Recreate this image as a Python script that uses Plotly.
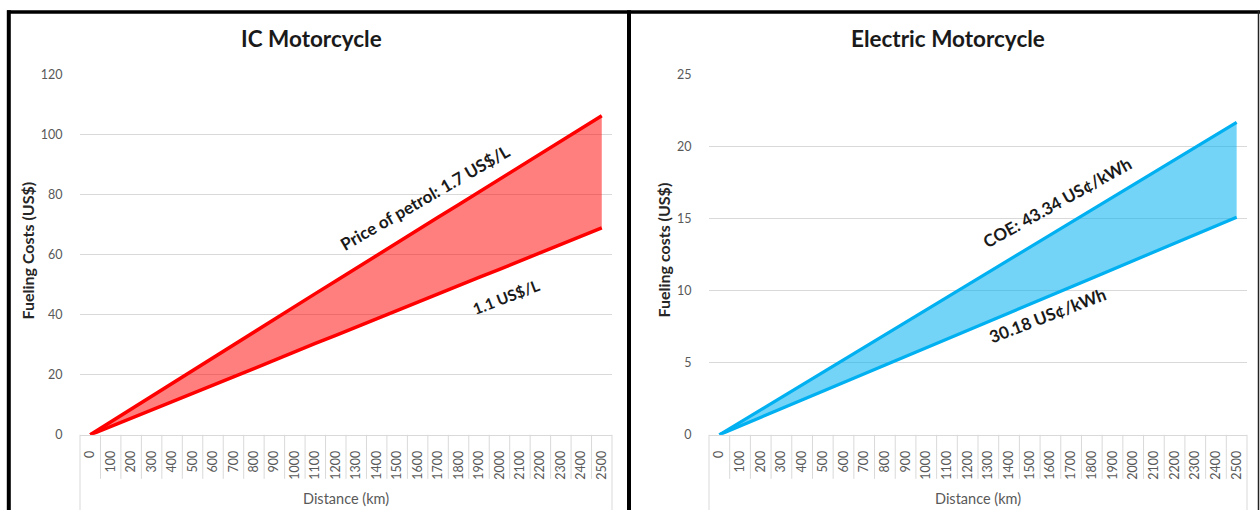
import plotly.graph_objects as go

# ---------------- data ----------------
distance_km = ["0", "100", "200", "300", "400", "500", "600", "700", "800", "900",
               "1000", "1100", "1200", "1300", "1400", "1500", "1600", "1700", "1800",
               "1900", "2000", "2100", "2200", "2300", "2400", "2500"]

ic_high = [0, 4.3, 8.6, 12.8, 17.1, 21.4, 25.7, 30.0, 34.2, 38.5, 42.8, 47.0, 51.2,
           55.5, 59.7, 63.9, 68.1, 72.4, 76.6, 80.8, 85.0, 89.3, 93.5, 97.7, 101.9, 106.2]
ic_low = [0, 2.8, 5.5, 8.3, 11.0, 13.9, 16.6, 19.3, 22.0, 24.9, 27.6, 30.4, 33.1,
          35.9, 38.6, 41.4, 44.1, 46.9, 49.6, 52.4, 55.1, 57.9, 60.6, 63.4, 66.1, 68.9]

ev_high = [0, 0.87, 1.73, 2.60, 3.47, 4.34, 5.20, 6.07, 6.94, 7.80, 8.67, 9.54, 10.40,
           11.27, 12.14, 13.00, 13.87, 14.74, 15.60, 16.47, 17.34, 18.20, 19.07, 19.94,
           20.80, 21.67]
ev_low = [0, 0.60, 1.21, 1.81, 2.41, 3.02, 3.62, 4.23, 4.83, 5.43, 6.04, 6.64, 7.24,
          7.85, 8.45, 9.05, 9.66, 10.26, 10.86, 11.47, 12.07, 12.68, 13.28, 13.88,
          14.49, 15.09]

ic_ticks = [0, 20, 40, 60, 80, 100, 120]
ev_ticks = [0, 5, 10, 15, 20, 25]

W, H = 1260, 519
FONT = "Lato"
# vertical correction for how the page is photographed
VA, VB = 0.97, 7.7


def px(x):
    return x / W


def py(y):
    v = 1 - ((y - VB) / VA) / H
    return min(1.0, max(0.0, v))


RED = "#FF0000"
RED_FILL = "rgba(255,0,0,0.5)"
BLUE = "#00B0F0"
BLUE_FILL = "rgba(0,176,240,0.55)"

fig = go.Figure()

# IC motorcycle
fig.add_trace(go.Scatter(x=distance_km, y=ic_low, mode="lines", xaxis="x", yaxis="y",
                         line=dict(color=RED, width=3.5), showlegend=False))
fig.add_trace(go.Scatter(x=distance_km, y=ic_high, mode="lines", xaxis="x", yaxis="y",
                         line=dict(color=RED, width=3.5), fill="tonexty",
                         fillcolor=RED_FILL, showlegend=False))
# Electric motorcycle
fig.add_trace(go.Scatter(x=distance_km, y=ev_low, mode="lines", xaxis="x2", yaxis="y2",
                         line=dict(color=BLUE, width=3.2), showlegend=False))
fig.add_trace(go.Scatter(x=distance_km, y=ev_high, mode="lines", xaxis="x2", yaxis="y2",
                         line=dict(color=BLUE, width=3.2), fill="tonexty",
                         fillcolor=BLUE_FILL, showlegend=False))

GRID = "#D9D9D9"
TICKC = "#595959"

xcommon = dict(type="category", categoryorder="array", categoryarray=distance_km,
               range=[-0.5, len(distance_km) - 0.5], tickangle=-90,
               tickfont=dict(family=FONT, size=12.5, color=TICKC),
               showgrid=False, showline=True, linecolor=GRID, linewidth=1,
               ticks="outside", ticklen=10, tickcolor="rgba(0,0,0,0)",
               zeroline=False, fixedrange=True)
ycommon = dict(showgrid=True, gridcolor=GRID, gridwidth=1, zeroline=False,
               showline=False, tickfont=dict(family=FONT, size=12.5, color=TICKC),
               ticks="outside", ticklen=14, tickcolor="rgba(0,0,0,0)", fixedrange=True)

ydom = [py(434), py(74)]
fig.update_layout(
    width=W, height=H, autosize=False,
    margin=dict(l=0, r=0, t=0, b=0),
    paper_bgcolor="white", plot_bgcolor="white",
    xaxis=dict(domain=[px(80), px(612)], anchor="y", **xcommon),
    yaxis=dict(domain=ydom, anchor="x", range=[0, 120], tickvals=ic_ticks, **ycommon),
    xaxis2=dict(domain=[px(709), px(1247)], anchor="y2", **xcommon),
    yaxis2=dict(domain=ydom, anchor="x2", range=[0, 25], tickvals=ev_ticks, **ycommon),
)

shapes = []
# category box dividers
n = len(distance_km)
for xr, x0p, x1p in (("x", 80, 612), ("x2", 709, 1247)):
    for i in range(1, n):
        shapes.append(dict(type="line", xref=xr, yref="paper", x0=i - 0.5, x1=i - 0.5,
                           y0=py(434), y1=py(478), line=dict(color=GRID, width=1)))
    for xe in (x0p, x1p):
        shapes.append(dict(type="line", xref="paper", yref="paper", x0=px(xe), x1=px(xe),
                           y0=py(434), y1=0, line=dict(color=GRID, width=1)))

# panel frames
BK = "#000000"
shapes.append(dict(type="line", xref="paper", yref="paper", x0=px(7), x1=1,
                   y0=py(11.7), y1=py(11.7), line=dict(color=BK, width=3.6)))
shapes.append(dict(type="line", xref="paper", yref="paper", x0=px(8.8), x1=px(8.8),
                   y0=py(10), y1=0, line=dict(color=BK, width=4)))
shapes.append(dict(type="line", xref="paper", yref="paper", x0=px(629), x1=px(629),
                   y0=py(10), y1=0, line=dict(color=BK, width=4)))
shapes.append(dict(type="line", xref="paper", yref="paper", x0=px(1258.5), x1=px(1258.5),
                   y0=py(10), y1=0, line=dict(color="#222222", width=1.5)))
fig.update_layout(shapes=shapes)

TXT = "#1a1a1a"
ann = []


def add_text(text, x, y, size, bold=True, angle=0, color=TXT):
    ann.append(dict(text=f"<b>{text}</b>" if bold else text, xref="paper", yref="paper",
                    x=px(x), y=py(y), xanchor="center", yanchor="middle",
                    showarrow=False, textangle=angle,
                    font=dict(family=FONT, size=size, color=color)))


add_text("IC Motorcycle", 311, 38, 22.5)
add_text("Electric Motorcycle", 948, 38, 22.5)
add_text("Fueling Costs (US$)", 28, 250, 16, angle=-90, color="#262626")
add_text("Fueling costs (US$)", 664, 250, 16, angle=-90, color="#262626")
add_text("Distance (km)", 346, 498, 14.5, bold=False, color=TICKC)
add_text("Distance (km)", 978, 498, 14.5, bold=False, color=TICKC)
add_text("Price of petrol: 1.7 US$/L", 425, 197, 17, angle=-30)
add_text("1.1 US$/L", 506, 296, 15.5, angle=-21)
add_text("COE: 43.34 US¢/kWh", 1057, 202, 17, angle=-29)
add_text("30.18 US¢/kWh", 1047, 315, 17, angle=-21)
fig.update_layout(annotations=ann)

post = ("document.documentElement.style.margin='0';"
        "document.documentElement.style.overflow='hidden';"
        "document.body.style.margin='0';document.body.style.padding='0';"
        "document.body.style.overflow='hidden';"
        "var gd=document.getElementById('{plot_id}');"
        "gd.style.position='absolute';gd.style.left='0px';gd.style.top='0px';")
fig.write_html("out.html", post_script=post,
               config=dict(displayModeBar=False, staticPlot=True))
